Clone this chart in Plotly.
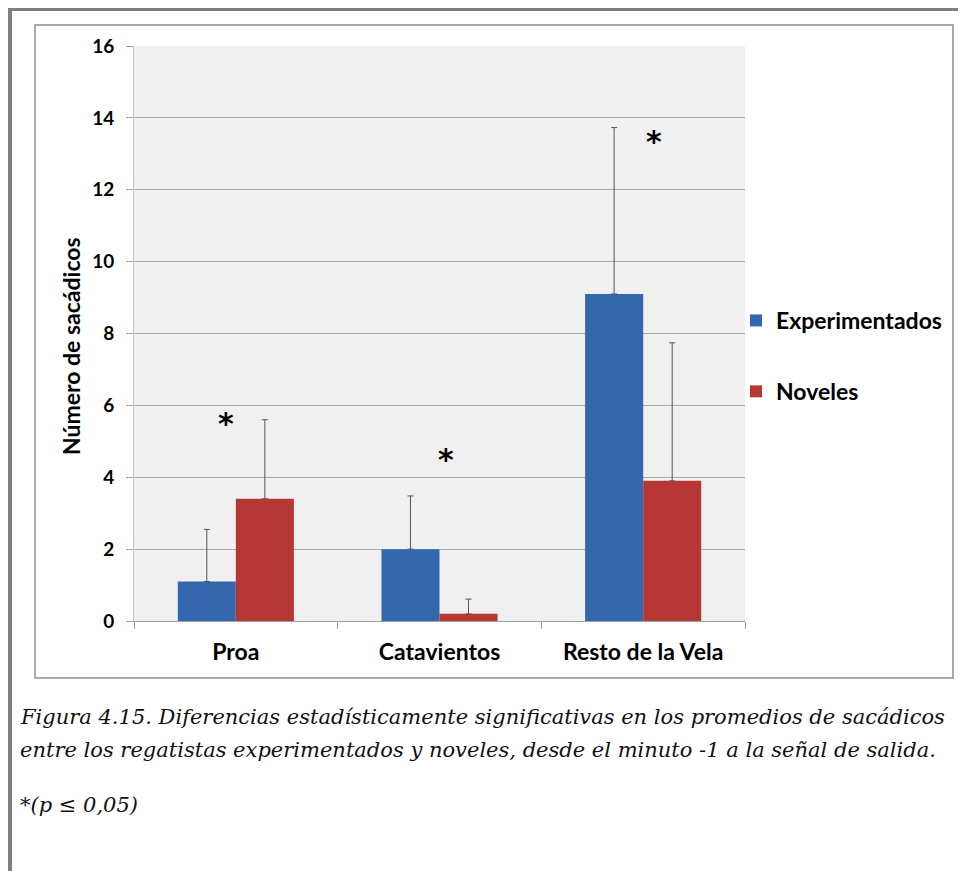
import plotly.graph_objects as go

categories = ["Proa", "Catavientos", "Resto de la Vela"]
exp_values = [1.1, 2.0, 9.1]
exp_errors = [1.45, 1.48, 4.63]
nov_values = [3.4, 0.2, 3.9]
nov_errors = [2.2, 0.41, 3.84]
star_y = [5.6, 4.6, 13.45]
star_shift = [-10, 6, 11]
y_ticks = [0, 2, 4, 6, 8, 10, 12, 14, 16]

OFF = 8  # page body margin
W, H = 966 - OFF, 871 - OFF
L, R, T, B = 134 - OFF, 745 - OFF, 46 - OFF, 621 - OFF  # plot area in px


def px(x):
    return (x - OFF - L) / (R - L)


def py(y):
    return (B - (y - OFF)) / (B - T)


FONT = "Lato"
fig = go.Figure()
fig.add_trace(go.Bar(
    x=categories, y=exp_values, name="Experimentados",
    marker=dict(color="#3467ad", line=dict(width=0)),
    error_y=dict(type="data", array=exp_errors, symmetric=False, arrayminus=[0, 0, 0],
                 color="#555555", thickness=1, width=3),
    legendgroup="a",
))
fig.add_trace(go.Bar(
    x=categories, y=nov_values, name="Noveles",
    marker=dict(color="#b73735", line=dict(width=0)),
    error_y=dict(type="data", array=nov_errors, symmetric=False, arrayminus=[0, 0, 0],
                 color="#555555", thickness=1, width=3),
    legendgroup="b",
))

annotations = []
for c, yv, sh in zip(categories, star_y, star_shift):
    annotations.append(dict(x=c, y=yv, xref="x", yref="y", text="<b>*</b>", showarrow=False,
                            xshift=sh, font=dict(family="DejaVu Sans", size=30, color="black"),
                            yanchor="middle", yshift=-4))

# y-axis title
annotations.append(dict(x=px(71), y=py(346), xref="paper", yref="paper",
                        text="Número de sacádicos", textangle=-90, showarrow=False,
                        xanchor="center", yanchor="middle",
                        font=dict(family=FONT, size=23, color="black", weight="bold")))

cap_font = dict(family="DejaVu Serif", size=21, color="#111111", style="italic")
captions = [
    ("Figura 4.15. Diferencias estadísticamente significativas en los promedios de sacádicos", 717),
    ("entre los regatistas experimentados y noveles, desde el minuto -1 a la señal de salida.", 750),
    ("*(p ≤ 0,05)", 805),
]
for txt, yy in captions:
    annotations.append(dict(x=px(18), y=py(yy), xref="paper", yref="paper", text=txt,
                            showarrow=False, xanchor="left", yanchor="middle", font=cap_font))

shapes = [
    # outer frame
    dict(type="line", xref="paper", yref="paper", x0=px(8), x1=px(970), y0=py(9), y1=py(9),
         line=dict(color="#808080", width=4), layer="above"),
    dict(type="line", xref="paper", yref="paper", x0=px(10), x1=px(10), y0=py(7), y1=py(875),
         line=dict(color="#808080", width=4), layer="above"),
    # chart box
    dict(type="rect", xref="paper", yref="paper", x0=px(35), x1=px(953), y0=py(25), y1=py(678),
         line=dict(color="#8f8f8f", width=1.5), layer="below"),
]

fig.update_layout(
    width=W, height=H,
    margin=dict(l=L, r=W - R, t=T, b=H - B, pad=0),
    paper_bgcolor="white", plot_bgcolor="#f0f0f0",
    barmode="group", bargap=0.43, bargroupgap=0,
    showlegend=True,
    legend=dict(x=px(736), y=py(299), xanchor="left", yanchor="top",
                font=dict(family=FONT, size=23, color="black", weight="bold"),
                tracegroupgap=38, itemwidth=30, bgcolor="rgba(0,0,0,0)"),
    xaxis=dict(showgrid=False, showline=True, linecolor="#a0a0a0", linewidth=1,
               ticks="outside", tickson="boundaries", ticklen=7, tickcolor="#a0a0a0",
               tickfont=dict(family=FONT, size=23, color="black", weight="bold"),
               ticklabelstandoff=10),
    yaxis=dict(range=[0, 16], tickvals=y_ticks, showgrid=True, gridcolor="#a8a8a8",
               gridwidth=1, showline=True, linecolor="#c4c4c4", linewidth=1,
               ticks="outside", ticklen=7, tickcolor="#a0a0a0",
               tickfont=dict(family=FONT, size=19, color="black", weight="bold"),
               ticklabelstandoff=8, zeroline=False),
    annotations=annotations, shapes=shapes,
)

fig.write_html("out.html")
